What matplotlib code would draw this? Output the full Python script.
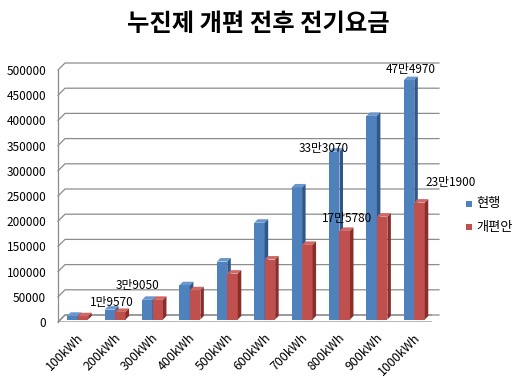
import matplotlib
matplotlib.use("Agg")
import matplotlib.pyplot as plt
from matplotlib.patches import Polygon

plt.rcParams['font.family'] = ['Noto Sans CJK KR', 'DejaVu Sans']

# ---- data ----
title = "누진제 개편 전후 전기요금"
categories = ["100kWh", "200kWh", "300kWh", "400kWh", "500kWh",
              "600kWh", "700kWh", "800kWh", "900kWh", "1000kWh"]
series_names = ["현행", "개편안"]
current = [7350, 19570, 39050, 68000, 115000, 192000, 262000, 333070, 404000, 474970]
reform = [6500, 15000, 39000, 58000, 91000, 119000, 148000, 175780, 204000, 231900]
yticks = [0, 50000, 100000, 150000, 200000, 250000, 300000, 350000, 400000, 450000, 500000]
# value labels: (series index, category index, text)
value_labels = [(0, 1, "1만9570"), (0, 2, "3만9050"), (0, 7, "33만3070"),
                (1, 7, "17만5780"), (0, 9, "47만4970"), (1, 9, "23만1900")]
# label offsets in pixels (style)
label_offsets = [(-2, 10), (-14, 17), (-15, 6), (9, 15), (-3, 13), (37, 23)]

# ---- style ----
W, H, DPI = 518, 378, 100
face_cols = ["#4F81BD", "#C0504D"]
side_cols = ["#2F5888", "#8A2E2C"]
top_cols = ["#6A97CF", "#D06866"]
grid_col = "#8C8C8C"

fig = plt.figure(figsize=(W / DPI, H / DPI), dpi=DPI)
x0_px, x1_px = 58, 432
y0_px, y1_px = 322, 70
ax = fig.add_axes([x0_px / W, (H - y0_px) / H, (x1_px - x0_px) / W, (y0_px - y1_px) / H])
n = len(categories)
ax.set_xlim(-0.5, n - 0.5)
ax.set_ylim(0, 500000)
for s in ax.spines.values():
    s.set_visible(False)
ax.patch.set_alpha(0)

px_x = (x1_px - x0_px) / n          # pixels per category unit
px_y = (y0_px - y1_px) / 500000.0   # pixels per value unit
def dx(p): return p / px_x
def dy(p): return p / px_y

# wall depth
DW = 7
xmin, xmax = -0.5, n - 0.5
# floor
floor = Polygon([(xmin, 0), (xmax, 0), (xmax + dx(DW), dy(DW)), (xmin + dx(DW), dy(DW))],
                closed=True, facecolor="white", edgecolor=grid_col, lw=0.9, zorder=1)
ax.add_patch(floor)
# back wall gridlines
for t in yticks:
    ax.plot([xmin, xmin + dx(DW), xmax + dx(DW)], [t, t + dy(DW), t + dy(DW)],
            color=grid_col, lw=0.9, zorder=1, clip_on=False)
ax.plot([xmin, xmin], [0, 500000], color=grid_col, lw=0.9, zorder=1, clip_on=False)

# bars
bw = 0.28
shift = 2.5   # bar placement inside depth (px)
bd = 3.5      # bar depth (px)
for i in range(n):
    for si, vals in enumerate([current, reform]):
        v = vals[i]
        left = i - bw + si * bw - dx(1.5)
        l = left + dx(shift)
        r = l + bw
        b = dy(shift)
        tp = v + dy(shift)
        ax.add_patch(Polygon([(l, b), (r, b), (r, tp), (l, tp)], closed=True,
                             facecolor=face_cols[si], edgecolor="none", zorder=3 + i * 3 + si))
        ax.add_patch(Polygon([(l, tp), (r, tp), (r + dx(bd), tp + dy(bd)), (l + dx(bd), tp + dy(bd))],
                             closed=True, facecolor=top_cols[si], edgecolor="none", zorder=3 + i * 3 + si))
        ax.add_patch(Polygon([(r, b), (r + dx(bd), b + dy(bd)), (r + dx(bd), tp + dy(bd)), (r, tp)],
                             closed=True, facecolor=side_cols[si], edgecolor="none", zorder=3 + i * 3 + si))

# value labels
for (si, ci, txt), (ox, oy) in zip(value_labels, label_offsets):
    v = [current, reform][si][ci]
    ax.annotate(txt, xy=(ci, v), xytext=(ox * 0.72, oy * 0.72), textcoords="offset points",
                ha="center", va="center", fontsize=8.5, color="black", zorder=100)

# ticks
ax.set_yticks(yticks)
ax.set_yticklabels([str(t) for t in yticks], fontsize=8.5)
ax.tick_params(axis="y", length=0, pad=8.5)
ax.set_xticks(range(n))
ax.set_xticklabels(categories, rotation=45, ha="right", rotation_mode="anchor", fontsize=9)
ax.tick_params(axis="x", length=0, pad=6.5)

# title
fig.text(258 / W, 1 - 24 / H, title, ha="center", va="center", fontsize=17.5, fontweight="bold")

# legend
for k, name in enumerate(series_names):
    ly = 1 - (204 + k * 23) / H
    fig.patches.append(plt.Rectangle((466 / W, ly - 3 / H), 6 / W, 6 / H, transform=fig.transFigure,
                                     facecolor=face_cols[k], edgecolor="none"))
    fig.text(476 / W, ly, name, ha="left", va="center", fontsize=9.5)

fig.savefig("out.png", dpi=DPI)
